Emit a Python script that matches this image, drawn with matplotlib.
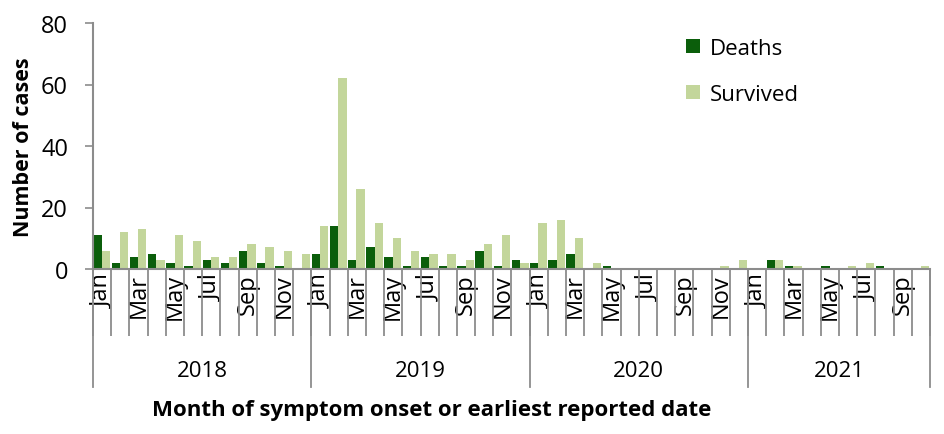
import matplotlib
matplotlib.use("Agg")
import matplotlib.pyplot as plt
import numpy as np
from matplotlib.lines import Line2D

plt.rcParams['font.family'] = ['Open Sans', 'DejaVu Sans']

years = ["2018", "2019", "2020", "2021"]
months_per_year = [12, 12, 12, 10]
month_names = ["Jan", "Feb", "Mar", "Apr", "May", "Jun",
               "Jul", "Aug", "Sep", "Oct", "Nov", "Dec"]

deaths = [11, 2, 4, 5, 2, 1, 3, 2, 6, 2, 1, 0,
          5, 14, 3, 7, 4, 1, 4, 1, 1, 6, 1, 3,
          2, 3, 5, 0, 1, 0, 0, 0, 0, 0, 0, 0,
          0, 3, 1, 0, 1, 0, 0, 1, 0, 0]
survived = [6, 12, 13, 3, 11, 9, 4, 4, 8, 7, 6, 5,
            14, 62, 26, 15, 10, 6, 5, 5, 3, 8, 11, 2,
            15, 16, 10, 2, 0, 0, 0, 0, 0, 0, 1, 3,
            0, 3, 1, 0, 0, 1, 2, 0, 0, 1]

labels = []
for n in months_per_year:
    for m in range(n):
        labels.append(month_names[m] if m % 2 == 0 else "")

c_dead = "#0b5e0b"
c_surv = "#c3d69b"
grey = "#8c8c8c"

fig = plt.figure(figsize=(9.44, 4.35), dpi=100)
ax = fig.add_axes([93/944, 1-270/435, (930-93)/944, 246/435])

x = np.arange(len(deaths))
w = 0.46
ax.bar(x - w/2 - 0.02, deaths, width=w, color=c_dead, label="Deaths")
ax.bar(x + w/2 - 0.02, survived, width=w, color=c_surv, label="Survived")

ax.set_xlim(-0.5, len(deaths) - 0.5)
ax.set_ylim(0, 80)
ax.set_yticks([0, 20, 40, 60, 80])
ax.tick_params(axis='y', direction='out', length=6, width=1.2, color=grey,
               labelsize=17, pad=12)
ax.set_ylabel("Number of cases", fontsize=15.5, fontweight='bold', labelpad=5)

ax.set_xticks(x)
ax.set_xticklabels(labels, rotation=90, fontsize=17, va='top')
ax.tick_params(axis='x', which='major', length=0, pad=3)
ax.set_xticks(np.arange(-0.5, len(deaths), 1.0), minor=True)
ax.tick_params(axis='x', which='minor', direction='out', length=48,
               width=1.3, color=grey)

for s in ['top', 'right']:
    ax.spines[s].set_visible(False)
for s in ['left', 'bottom']:
    ax.spines[s].set_color(grey)
    ax.spines[s].set_linewidth(1.5)

trans = ax.get_xaxis_transform()
bounds = np.concatenate([[0], np.cumsum(months_per_year)]) - 0.5
for b in bounds:
    ax.add_line(Line2D([b, b], [0, -118/246], transform=trans, color=grey,
                       lw=1.3, clip_on=False))
for i, yr in enumerate(years):
    cx = (bounds[i] + bounds[i+1]) / 2
    ax.text(cx, -102/246, yr, transform=trans, ha='center', va='center',
            fontsize=16)

fig.text(432/944, 1-411/435, "Month of symptom onset or earliest reported date",
         ha='center', va='center', fontsize=16, fontweight='bold')

leg = ax.legend(loc='upper left', bbox_to_anchor=(0.685, 1.02), frameon=False,
                fontsize=16, handlelength=0.6, handleheight=0.6,
                handletextpad=0.45, labelspacing=1.1)

fig.savefig("out.png", dpi=100)
